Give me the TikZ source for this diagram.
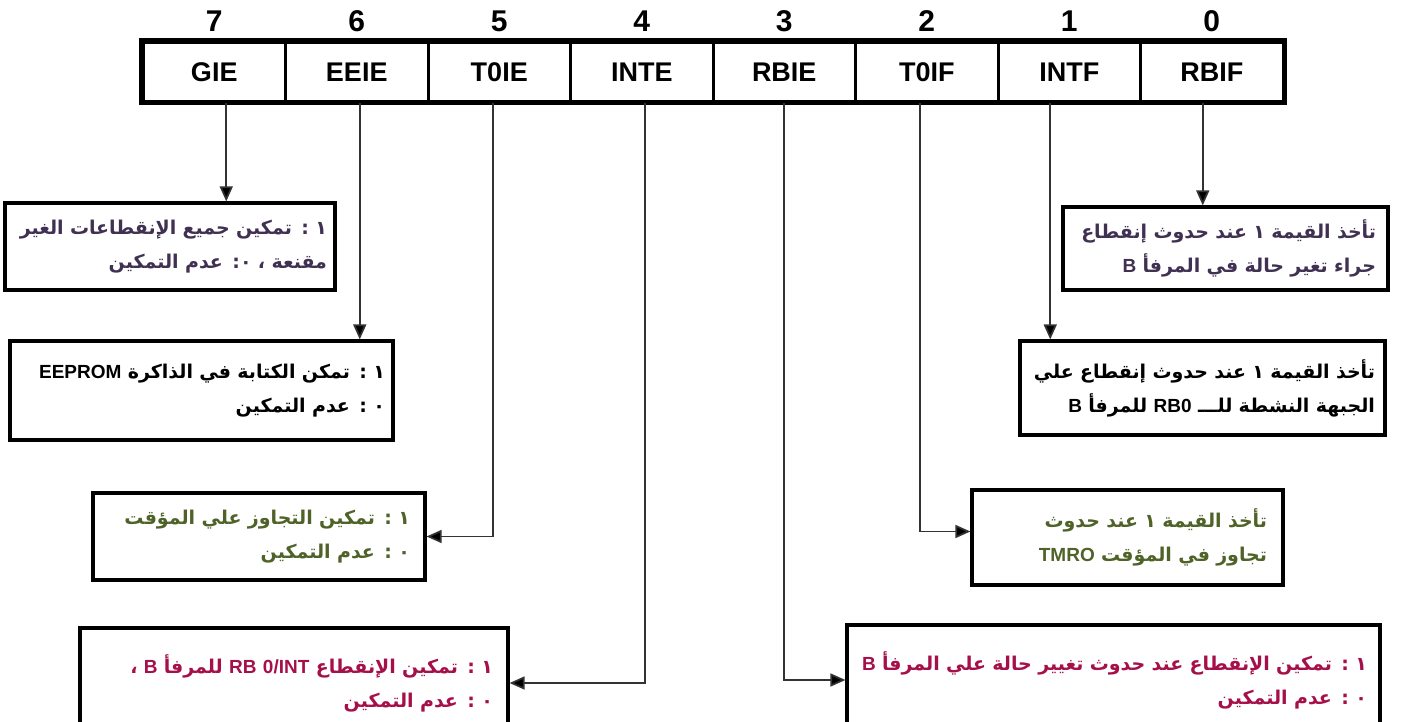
\documentclass[tikz,border=0pt]{standalone}
\usepackage{fontspec}
\usetikzlibrary{arrows.meta,positioning}
\setmainfont{Liberation Sans}
\newfontfamily\arabicfont[Script=Arabic]{DejaVu Sans}
\TeXXeTstate=1

\definecolor{plum}{HTML}{403152}
\definecolor{olivetext}{HTML}{4F6228}
\definecolor{crimson}{HTML}{A6104A}

% one right-to-left line, latin words inside it
\newcommand{\rtline}[1]{\beginR #1\endR}
\newcommand{\lat}[1]{{\normalfont\bfseries #1}}

\tikzset{
	bitcell/.style={draw, line width=3pt, minimum width=142.5pt, minimum height=59pt, inner sep=0pt,
		font=\fontsize{27}{30}\selectfont\bfseries},
	bitnum/.style={inner sep=0pt, font=\fontsize{30}{32}\selectfont\bfseries},
	infobox/.style={draw, line width=3.2pt, align=right, inner ysep=0pt,
		font=\arabicfont\bfseries\fontsize{19}{34}\selectfont},
	conn/.style={draw=black!80, line width=1.7pt, -{Triangle[length=15pt,width=13pt,fill=black]}},
}

\begin{document}
\begin{tikzpicture}[x=1pt, y=-1pt]
	\useasboundingbox (0,0) rectangle (1403,722);
	\clip (0,0) rectangle (1403,722);

	% INTCON register, bit 7 on the left
	\foreach \n/\name/\lbl [count=\i from 0] in {7/gie/GIE, 6/eeie/EEIE, 5/t0ie/T0IE, 4/inte/INTE, 3/rbie/RBIE, 2/t0if/T0IF, 1/intf/INTF, 0/rbif/RBIF} {
		\node[bitcell] (\name) at (214.25+142.5*\i, 72) {\lbl};
		\node[bitnum, above=9pt of \name] (num\n) {\n};
	}
	\draw[line width=5pt] (gie.north west) rectangle (rbif.south east);

	% what each bit means
	\node[infobox, text=plum, inner xsep=8pt, text width=314pt, minimum height=87pt] (gieinfo) at (170,246.5) {
		\rtline{١ : تمكين جميع الإنقطاعات الغير}\\
		\rtline{مقنعة ، ٠: عدم التمكين}};
	\node[infobox, inner xsep=8pt, text width=367pt, minimum height=99pt] (eeieinfo) at (201.5,390.5) {
		\rtline{١ : تمكن الكتابة في الذاكرة \lat{EEPROM}}\\
		\rtline{٠ : عدم التمكين}};
	\node[infobox, text=olivetext, inner xsep=15pt, text width=302pt, minimum height=87pt] (t0ieinfo) at (259,536.5) {
		\rtline{١ : تمكين التجاوز علي المؤقت}\\
		\rtline{٠ : عدم التمكين}};
	\node[infobox, text=crimson, inner xsep=15pt, text width=398pt, minimum height=110pt] (inteinfo) at (294,683) {
		\rtline{١ : تمكين الإنقطاع \beginL\lat{RB 0/INT}\endL{} للمرفأ \lat{B} ،}\\
		\rtline{٠ : عدم التمكين}};
	\node[infobox, text=crimson, inner xsep=13pt, text width=507pt, minimum height=110pt] (rbieinfo) at (1113.5,680) {
		\rtline{١ : تمكين الإنقطاع عند حدوث تغيير حالة علي المرفأ \lat{B}}\\
		\rtline{٠ : عدم التمكين}};
	\node[infobox, text=olivetext, inner xsep=16pt, text width=279pt, minimum height=95pt] (t0ifinfo) at (1127.5,537.5) {
		\rtline{تأخذ القيمة ١ عند حدوث}\\
		\rtline{تجاوز في المؤقت \lat{TMRO}}};
	\node[infobox, inner xsep=10pt, text width=345pt, minimum height=94pt] (intfinfo) at (1202.5,388) {
		\rtline{تأخذ القيمة ١ عند حدوث إنقطاع علي}\\
		\rtline{الجبهة النشطة للـــ \lat{RB0} للمرفأ \lat{B}}};
	\node[infobox, text=plum, inner xsep=12pt, text width=301pt, minimum height=83pt] (rbifinfo) at (1225.5,248.5) {
		\rtline{تأخذ القيمة ١ عند حدوث إنقطاع}\\
		\rtline{جراء تغير حالة في المرفأ \lat{B}}};

	% connectors
	\draw[conn] ([xshift=12pt]gie.south) -- ([xshift=12pt]gie.south |- gieinfo.north);
	\draw[conn] ([xshift=3pt]eeie.south) -- ([xshift=3pt]eeie.south |- eeieinfo.north);
	\draw[conn] ([xshift=-6pt]t0ie.south) |- (t0ieinfo.east);
	\draw[conn] ([xshift=3pt]inte.south) |- (inteinfo.east);
	\draw[conn] (rbie.south) |- (rbieinfo.west);
	\draw[conn] ([xshift=-7pt]t0if.south) |- ([yshift=6pt]t0ifinfo.west);
	\draw[conn] ([xshift=-19pt]intf.south) -- ([xshift=-19pt]intf.south |- intfinfo.north);
	\draw[conn] ([xshift=-9pt]rbif.south) -- ([xshift=-9pt]rbif.south |- rbifinfo.north);
\end{tikzpicture}
\end{document}
